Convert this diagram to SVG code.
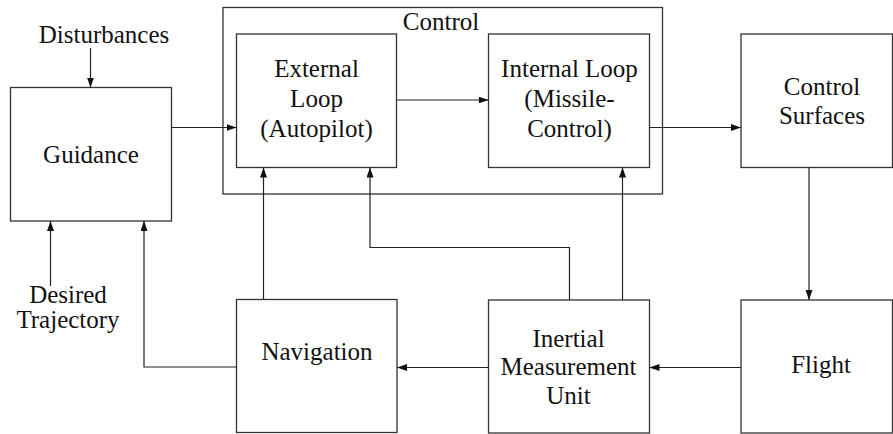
<svg xmlns="http://www.w3.org/2000/svg" width="893" height="434" viewBox="0 0 893 434" font-family="Liberation Serif, Tinos, Noto Serif, DejaVu Serif, Times New Roman, serif">
  <style>
    .box { fill: #fff; stroke: #333; stroke-width: 1.3; }
    .frame { fill: none; stroke: #333; stroke-width: 1.3; }
    .wire { fill: none; stroke: #222; stroke-width: 1.2; marker-end: url(#arrow); }
    .t { font-size: 25px; fill: #111; text-anchor: middle; }
  </style>
  <defs>
    <marker id="arrow" markerUnits="userSpaceOnUse" markerWidth="10" markerHeight="8" refX="10" refY="3.5" orient="auto">
      <path d="M0,0 L10,3.5 L0,7 z" fill="#111"/>
    </marker>
  </defs>

  <!-- control frame -->
  <g id="control">
    <rect class="frame" x="223" y="7.5" width="439.5" height="186.5"/>
    <text class="t" x="441" y="30">Control</text>
  </g>

  <g id="guidance">
    <rect class="box" x="10.5" y="87.5" width="161" height="133.5"/>
    <text class="t" x="91" y="163">Guidance</text>
  </g>

  <g id="external-loop">
    <rect class="box" x="236.5" y="34" width="160" height="133.5"/>
    <text class="t" x="316.5" y="77">External</text>
    <text class="t" x="316.5" y="107">Loop</text>
    <text class="t" x="316.5" y="136.5">(Autopilot)</text>
  </g>

  <g id="internal-loop">
    <rect class="box" x="488.5" y="34" width="161" height="133.5"/>
    <text class="t" x="569.5" y="77">Internal Loop</text>
    <text class="t" x="569.5" y="106.5">(Missile-</text>
    <text class="t" x="569.5" y="136.5">Control)</text>
  </g>

  <g id="control-surfaces">
    <rect class="box" x="741" y="34" width="151.5" height="133.5"/>
    <text class="t" x="822" y="95">Control</text>
    <text class="t" x="822" y="124">Surfaces</text>
  </g>

  <g id="navigation">
    <rect class="box" x="236.5" y="299.5" width="160.5" height="133"/>
    <text class="t" x="317" y="360">Navigation</text>
  </g>

  <g id="imu">
    <rect class="box" x="488.5" y="300" width="161" height="133"/>
    <text class="t" x="568.5" y="346.5">Inertial</text>
    <text class="t" x="568.5" y="375">Measurement</text>
    <text class="t" x="568.5" y="404">Unit</text>
  </g>

  <g id="flight">
    <rect class="box" x="741" y="300" width="151.5" height="133"/>
    <text class="t" x="821" y="373">Flight</text>
  </g>

  <g id="labels">
    <text class="t" x="104" y="43">Disturbances</text>
    <text class="t" x="68" y="303">Desired</text>
    <text class="t" x="68" y="328">Trajectory</text>
  </g>

  <g id="connectors">
    <path class="wire" d="M90.5,48 V87.5"/>
    <path class="wire" d="M171.5,127.5 H236.5"/>
    <path class="wire" d="M396.5,100 H488.5"/>
    <path class="wire" d="M649.5,127.5 H741"/>
    <path class="wire" d="M809,167.5 V300"/>
    <path class="wire" d="M741,367.5 H649.5"/>
    <path class="wire" d="M488.5,367.5 H397"/>
    <path class="wire" d="M236.5,367 H144 V221"/>
    <path class="wire" d="M50.5,286 V221"/>
    <path class="wire" d="M263.5,299.5 V167.5"/>
    <path class="wire" d="M569.5,300 V247.5 H370 V167.5"/>
    <path class="wire" d="M622.5,300 V167.5"/>
  </g>
</svg>
